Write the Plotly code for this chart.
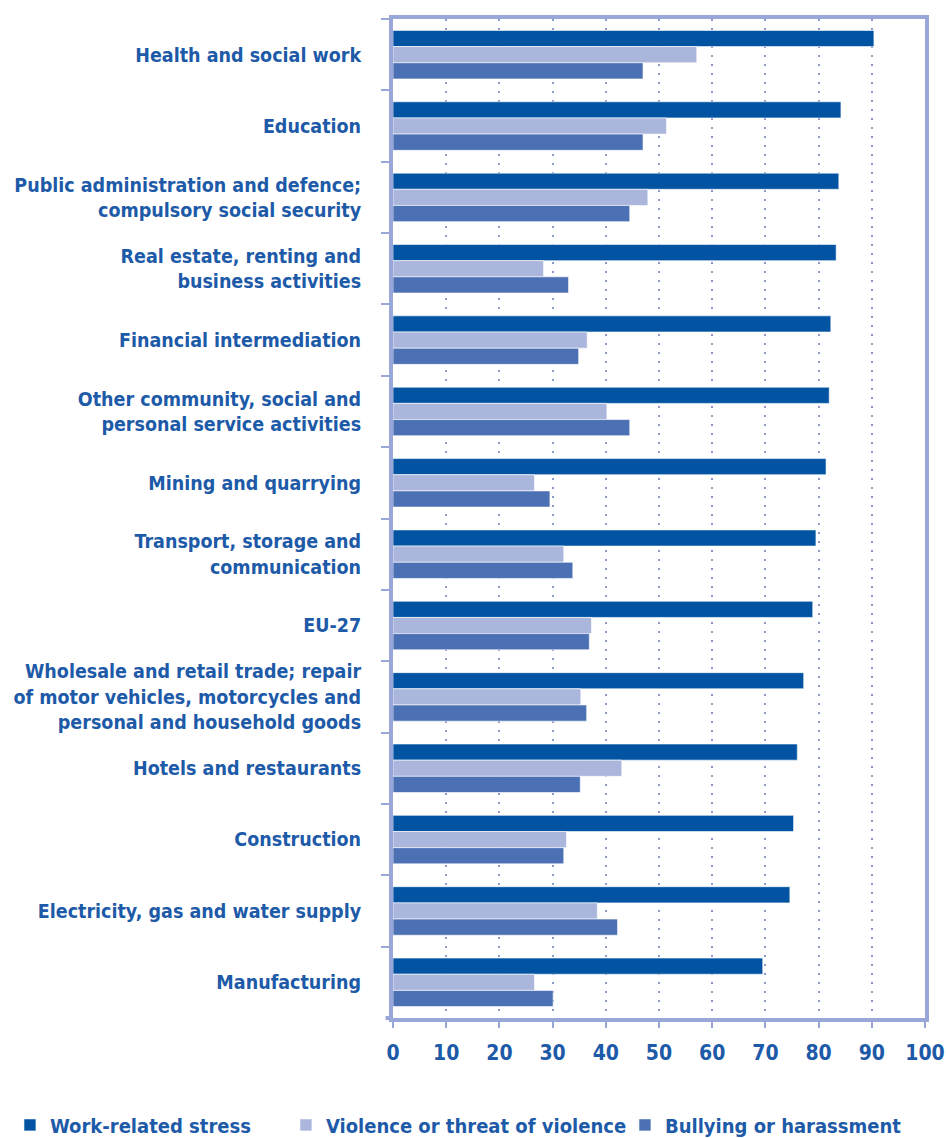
import plotly.graph_objects as go

categories = [
    "Health and social work",
    "Education",
    "Public administration and defence;<br>compulsory social security",
    "Real estate, renting and<br>business activities",
    "Financial intermediation",
    "Other community, social and<br>personal service activities",
    "Mining and quarrying",
    "Transport, storage and<br>communication",
    "EU-27",
    "Wholesale and retail trade; repair<br>of motor vehicles, motorcycles and<br>personal and household goods",
    "Hotels and restaurants",
    "Construction",
    "Electricity, gas and water supply",
    "Manufacturing",
]

stress = [90.4, 84.2, 83.8, 83.3, 82.3, 82.0, 81.4, 79.5, 78.9, 77.2, 76.0, 75.3, 74.6, 69.5]
violence = [57.1, 51.4, 47.9, 28.3, 36.5, 40.2, 26.6, 32.1, 37.3, 35.3, 43.0, 32.6, 38.4, 26.6]
bullying = [47.0, 47.0, 44.5, 33.0, 34.9, 44.5, 29.5, 33.8, 36.9, 36.4, 35.2, 32.1, 42.2, 30.1]

series_names = ["Work-related stress", "Violence or threat of violence", "Bullying or harassment"]
colors = ["#0254a3", "#aab6dc", "#4b70b4"]
legend_widths = [231, 294, 240]

x_ticks = list(range(0, 101, 10))

FONT = "Liberation Sans Narrow, DejaVu Sans Condensed, Roboto Condensed, Arial Narrow, sans-serif"
TEXT = "#1d5aa8"
FRAME = "#98a7d7"
GRID = "#8d9bcb"

fig = go.Figure()
for name, vals, col, lw in zip(series_names, [stress, violence, bullying], colors, legend_widths):
    fig.add_trace(go.Bar(
        y=categories, x=vals, name=name, orientation="h",
        marker=dict(color=col, line=dict(color="white", width=0.6)),
        legendwidth=lw,
    ))

fig.update_layout(
    width=946, height=1138,
    margin=dict(l=393, r=21, t=19, b=120, autoexpand=False),
    paper_bgcolor="white", plot_bgcolor="white",
    barmode="group", bargap=0.32, bargroupgap=0.0,
    font=dict(family=FONT, size=20, color=TEXT),
    showlegend=True,
    legend=dict(
        orientation="h", xref="paper", yref="paper",
        x=-0.72, y=-0.107, xanchor="left", yanchor="middle",
        font=dict(family=FONT, size=20, color=TEXT, weight="bold"),
        itemclick=False, traceorder="normal", itemwidth=30,
    ),
    xaxis=dict(
        range=[0, 100], tickvals=x_ticks, ticktext=[str(v) for v in x_ticks],
        showgrid=True, gridcolor=GRID, gridwidth=2, griddash="2px,7px",
        showline=True, linecolor=FRAME, linewidth=4, mirror=True,
        ticks="outside", ticklen=6, tickwidth=2, tickcolor=FRAME,
        tickfont=dict(family=FONT, size=21, color=TEXT, weight="bold"),
        ticklabelstandoff=7, zeroline=False, fixedrange=True, automargin=False,
    ),
    yaxis=dict(
        type="category", autorange="reversed",
        showline=True, linecolor=FRAME, linewidth=4, mirror=True,
        ticks="outside", tickson="boundaries", ticklen=8, tickwidth=2, tickcolor=FRAME,
        tickfont=dict(family=FONT, size=19.5, color=TEXT, weight="bold"),
        ticklabelstandoff=24, showgrid=False, fixedrange=True, automargin=False,
    ),
)

fig.add_shape(type="line", xref="paper", yref="paper", x0=-0.014, x1=0, y0=0, y1=0,
              line=dict(color=FRAME, width=4))

fig.write_html("out.html")
